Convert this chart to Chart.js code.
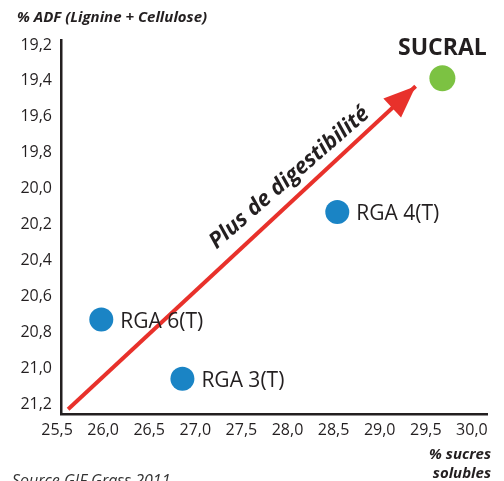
<!DOCTYPE html>
<html>
<head>
<meta charset="utf-8">
<script src="https://cdn.jsdelivr.net/npm/chart.js@4.4.1/dist/chart.umd.min.js"></script>
<style>
  html, body { margin: 0; padding: 0; background: #fff; }
  #wrap { width: 504px; height: 481px; }
</style>
</head>
<body>
<div id="wrap"><canvas id="graphe" width="504" height="481"></canvas></div>
<script>
// ---- données ----
const nomsRGA = ['RGA 6(T)', 'RGA 3(T)', 'RGA 4(T)'];
const sucresRGA = [25.98, 26.86, 28.54];
const adfRGA = [20.73, 21.06, 20.13];

const nomSucral = 'SUCRAL';
const sucresSucral = [29.68];
const adfSucral = [19.385];

// flèche "Plus de digestibilité" (départ, arrivée)
const flecheX = [25.62, 29.39];
const flecheY = [21.23, 19.43];
const texteFleche = 'Plus de digestibilité';
const texteFlechePos = [28.02, 19.94];

const ticksX = [25.5, 26.0, 26.5, 27.0, 27.5, 28.0, 28.5, 29.0, 29.5, 30.0];
const ticksY = [19.2, 19.4, 19.6, 19.8, 20.0, 20.2, 20.4, 20.6, 20.8, 21.0, 21.2];

const NOIR = '#231f20';
const POLICE = "'Open Sans', 'Noto Sans', sans-serif";

function virgule(v) {
    return Number(v).toFixed(1).replace('.', ',');
}

// textes, étiquettes et pointe de flèche
const pluginTextes = {
    id: 'textes',
    afterDatasetsDraw(chart) {
        const ctx = chart.ctx;
        const sx = chart.scales.x, sy = chart.scales.y;
        ctx.save();

        // pointe de la flèche
        const x0 = sx.getPixelForValue(flecheX[0]), y0 = sy.getPixelForValue(flecheY[0]);
        const x1 = sx.getPixelForValue(flecheX[1]), y1 = sy.getPixelForValue(flecheY[1]);
        const ang = Math.atan2(y1 - y0, x1 - x0);
        const L = 32, W = 13;
        ctx.fillStyle = '#e8312b';
        ctx.beginPath();
        ctx.moveTo(x1, y1);
        ctx.lineTo(x1 - L * Math.cos(ang) + W * Math.sin(ang), y1 - L * Math.sin(ang) - W * Math.cos(ang));
        ctx.lineTo(x1 - L * Math.cos(ang) - W * Math.sin(ang), y1 - L * Math.sin(ang) + W * Math.cos(ang));
        ctx.closePath();
        ctx.fill();

        // texte le long de la flèche
        ctx.fillStyle = NOIR;
        ctx.font = "italic bold 22px " + POLICE;
        ctx.textAlign = 'center';
        ctx.textBaseline = 'middle';
        ctx.translate(sx.getPixelForValue(texteFlechePos[0]), sy.getPixelForValue(texteFlechePos[1]));
        ctx.rotate(-41 * Math.PI / 180);
        ctx.fillText(texteFleche, 0, 0);
        ctx.setTransform(1, 0, 0, 1, 0, 0);

        // étiquettes RGA
        ctx.font = "21px " + POLICE;
        ctx.textAlign = 'left';
        nomsRGA.forEach((nom, i) => {
            ctx.fillText(nom, sx.getPixelForValue(sucresRGA[i]) + 19, sy.getPixelForValue(adfRGA[i]) + 2);
        });

        // SUCRAL
        ctx.font = "bold 23px " + POLICE;
        ctx.textAlign = 'center';
        ctx.fillText(nomSucral, sx.getPixelForValue(sucresSucral[0]), sy.getPixelForValue(adfSucral[0]) - 30);

        // titres des axes et source
        ctx.font = "italic bold 15px " + POLICE;
        ctx.textAlign = 'left';
        ctx.fillText('% ADF (Lignine + Cellulose)', 17, 18);
        ctx.textAlign = 'right';
        ctx.fillText('% sucres', 491, 455);
        ctx.fillText('solubles', 491, 474);
        ctx.font = "italic 16px " + POLICE;
        ctx.textAlign = 'left';
        ctx.fillStyle = '#333';
        ctx.fillText('Source GIF Grass 2011', 12, 481);
        ctx.restore();
    }
};

new Chart(document.getElementById('graphe'), {
    type: 'scatter',
    data: {
        datasets: [
            {
                type: 'line',
                data: flecheX.map((x, i) => ({ x: x, y: flecheY[i] })),
                borderColor: '#e8312b',
                borderWidth: 4,
                pointRadius: 0,
                fill: false
            },
            {
                data: sucresRGA.map((x, i) => ({ x: x, y: adfRGA[i] })),
                backgroundColor: '#1a84c5',
                borderWidth: 0,
                pointRadius: 12
            },
            {
                data: sucresSucral.map((x, i) => ({ x: x, y: adfSucral[i] })),
                backgroundColor: '#7cc242',
                borderWidth: 0,
                pointRadius: 13
            }
        ]
    },
    options: {
        responsive: false,
        animation: false,
        layout: { padding: { left: 0, top: 40, right: 17, bottom: 0 } },
        plugins: {
            legend: { display: false },
            tooltip: { enabled: false }
        },
        scales: {
            x: {
                type: 'linear',
                min: 25.543,
                max: 30.164,
                afterBuildTicks: s => { s.ticks = ticksX.map(v => ({ value: v })); },
                afterFit: s => { s.height = 67; },
                grid: { display: false, drawTicks: false },
                border: { display: true, color: NOIR, width: 2.5 },
                ticks: {
                    autoSkip: false,
                    maxRotation: 0,
                    padding: 7,
                    color: NOIR,
                    font: { family: POLICE, size: 16 },
                    callback: v => virgule(v)
                }
            },
            y: {
                type: 'linear',
                reverse: true,
                min: 19.172,
                max: 21.256,
                afterBuildTicks: s => { s.ticks = ticksY.map(v => ({ value: v })); },
                afterFit: s => { s.width = 61; },
                grid: { display: false, drawTicks: false },
                border: { display: true, color: NOIR, width: 2.5 },
                ticks: {
                    autoSkip: false,
                    padding: 9,
                    color: NOIR,
                    font: { family: POLICE, size: 16 },
                    callback: v => virgule(v)
                }
            }
        }
    },
    plugins: [pluginTextes]
});
</script>
</body>
</html>
